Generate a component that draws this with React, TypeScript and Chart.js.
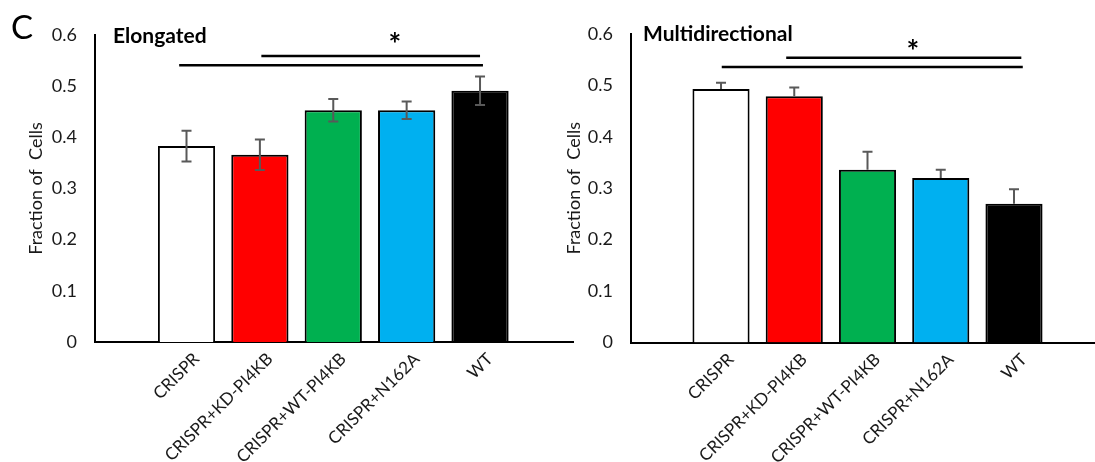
import React, { useEffect, useRef } from 'react';
import { Chart, registerables } from 'chart.js';

Chart.register(...registerables);

// ---- data ----
const categories = ['CRISPR', 'CRISPR+KD-PI4KB', 'CRISPR+WT-PI4KB', 'CRISPR+N162A', 'WT'];
const barColors = ['#FFFFFF', '#FF0000', '#00B050', '#00B0F0', '#000000'];
const yTickValues = [0, 0.1, 0.2, 0.3, 0.4, 0.5, 0.6];

const elongatedValues = [0.383, 0.366, 0.453, 0.453, 0.491];
const elongatedErrors = [0.030, 0.030, 0.022, 0.017, 0.028];

const multiValues = [0.493, 0.479, 0.336, 0.320, 0.270];
const multiErrors = [0.012, 0.017, 0.035, 0.016, 0.028];

const FONT = 'Lato, "Open Sans", "DejaVu Sans", sans-serif';

type SigLine = { x0: number; x1: number; y: number };
type PanelCfg = {
  title: string;
  values: number[];
  errors: number[];
  oneSided: boolean;
  xMin: number;
  xMax: number;
  padTop: number;
  padRight: number;
  yAxisWidth: number;
  xAxisHeight: number;
  yTitlePad: number;
  titleX: number;
  titleBaseline: number;
  sigLines: SigLine[];
  star: { x: number; y: number };
  letter: boolean;
};

function makePlugin(cfg: PanelCfg) {
  return {
    id: 'panelDecor',
    afterDatasetsDraw(chart: any) {
      const { ctx } = chart;
      const xs = chart.scales.x;
      const ys = chart.scales.y;
      ctx.save();
      ctx.strokeStyle = '#595959';
      ctx.lineWidth = 2;
      cfg.values.forEach((v, i) => {
        const e = cfg.errors[i];
        const x = xs.getPixelForValue(i + 1);
        const yt = ys.getPixelForValue(v + e);
        const yb = ys.getPixelForValue(cfg.oneSided ? v : v - e);
        ctx.beginPath();
        ctx.moveTo(x, yt);
        ctx.lineTo(x, yb);
        ctx.moveTo(x - 5, yt);
        ctx.lineTo(x + 5, yt);
        if (!cfg.oneSided) {
          ctx.moveTo(x - 5, yb);
          ctx.lineTo(x + 5, yb);
        }
        ctx.stroke();
      });
      ctx.restore();
    },
    afterDraw(chart: any) {
      const { ctx } = chart;
      const xs = chart.scales.x;
      const ys = chart.scales.y;
      ctx.save();
      // significance lines
      ctx.strokeStyle = '#000';
      ctx.lineWidth = 2.5;
      cfg.sigLines.forEach((l) => {
        const y = ys.getPixelForValue(l.y);
        ctx.beginPath();
        ctx.moveTo(xs.getPixelForValue(l.x0), y);
        ctx.lineTo(xs.getPixelForValue(l.x1), y);
        ctx.stroke();
      });
      // star
      ctx.fillStyle = '#000';
      ctx.font = `bold 30px ${FONT}`;
      ctx.textAlign = 'center';
      ctx.textBaseline = 'alphabetic';
      const m = ctx.measureText('*');
      const sy = ys.getPixelForValue(cfg.star.y);
      ctx.fillText('*', xs.getPixelForValue(cfg.star.x), sy + (m.actualBoundingBoxAscent - m.actualBoundingBoxDescent) / 2);
      // panel title
      ctx.textAlign = 'left';
      ctx.font = `bold 21px ${FONT}`;
      ctx.fillText(cfg.title, cfg.titleX, cfg.titleBaseline);
      if (cfg.letter) {
        ctx.font = `33px ${FONT}`;
        ctx.fillText('C', 11, 39);
      }
      ctx.restore();
    },
  };
}

function Panel({ cfg, left, width }: { cfg: PanelCfg; left: number; width: number }) {
  const ref = useRef<HTMLCanvasElement>(null);
  useEffect(() => {
    const chart = new Chart(ref.current as HTMLCanvasElement, {
      type: 'bar',
      data: {
        datasets: [
          {
            data: cfg.values.map((v, i) => ({ x: i + 1, y: v })),
            backgroundColor: barColors,
            borderColor: '#000000',
            borderWidth: 2,
            barPercentage: 0.78,
            categoryPercentage: 1,
          } as any,
        ],
      },
      options: {
        animation: false,
        responsive: false,
        layout: { padding: { top: cfg.padTop, right: cfg.padRight, left: 0, bottom: 0 } },
        plugins: { legend: { display: false }, tooltip: { enabled: false } },
        scales: {
          x: {
            type: 'linear',
            min: cfg.xMin,
            max: cfg.xMax,
            offset: false,
            z: 1,
            grid: { display: false, drawTicks: false },
            border: { display: true, color: '#000000', width: 2 },
            afterBuildTicks: (s: any) => {
              s.ticks = categories.map((_, i) => ({ value: i + 1 }));
            },
            afterFit: (s: any) => {
              s.height = cfg.xAxisHeight;
            },
            ticks: {
              autoSkip: false,
              maxRotation: 45,
              minRotation: 45,
              padding: 7,
              labelOffset: 10,
              color: '#1a1a1a',
              font: { family: FONT, size: 17 },
              callback: (v: any) => categories[Math.round(Number(v)) - 1] ?? '',
            },
          },
          y: {
            type: 'linear',
            min: 0,
            max: 0.6,
            grid: { display: false, drawTicks: false },
            border: { display: true, color: '#000000', width: 2 },
            afterBuildTicks: (s: any) => {
              s.ticks = yTickValues.map((v) => ({ value: v }));
            },
            afterFit: (s: any) => {
              s.width = cfg.yAxisWidth;
            },
            ticks: {
              padding: 18,
              color: '#1a1a1a',
              font: { family: FONT, size: 18 },
              callback: (v: any) => String(Math.round(Number(v) * 10) / 10),
            },
            title: {
              display: true,
              text: 'Fraction of  Cells',
              color: '#1a1a1a',
              font: { family: FONT, size: 18 },
              padding: { top: cfg.yTitlePad, bottom: 0 },
            },
          },
        },
      } as any,
      plugins: [makePlugin(cfg)],
    });
    return () => chart.destroy();
  }, []);
  return (
    <div style={{ position: 'absolute', left, top: 0, width, height: 462 }}>
      <canvas ref={ref} width={width} height={462} style={{ width, height: 462, display: 'block' }} />
    </div>
  );
}

const leftCfg: PanelCfg = {
  title: 'Elongated',
  values: elongatedValues,
  errors: elongatedErrors,
  oneSided: false,
  xMin: -0.247,
  xMax: 6.267,
  padTop: 35,
  padRight: 7,
  yAxisWidth: 95,
  xAxisHeight: 120,
  yTitlePad: 25,
  titleX: 113,
  titleBaseline: 43,
  sigLines: [
    { x0: 2.02, x1: 5.0, y: 0.559 },
    { x0: 0.9, x1: 5.04, y: 0.541 },
  ],
  star: { x: 3.84, y: 0.596 },
  letter: true,
};

const rightCfg: PanelCfg = {
  title: 'Multidirectional',
  values: multiValues,
  errors: multiErrors,
  oneSided: true,
  xMin: -0.229,
  xMax: 6.106,
  padTop: 34,
  padRight: 0,
  yAxisWidth: 86,
  xAxisHeight: 119.5,
  yTitlePad: 18,
  titleX: 98,
  titleBaseline: 41,
  sigLines: [
    { x0: 1.89, x1: 5.1, y: 0.554 },
    { x0: 1.01, x1: 5.12, y: 0.536 },
  ],
  star: { x: 3.62, y: 0.5795 },
  letter: false,
};

export default function App() {
  return (
    <div style={{ position: 'fixed', left: 0, top: 0, width: 1095, height: 462, background: '#fff', overflow: 'hidden' }}>
      <Panel cfg={leftCfg} left={0} width={580} />
      <Panel cfg={rightCfg} left={545} width={550} />
    </div>
  );
}
